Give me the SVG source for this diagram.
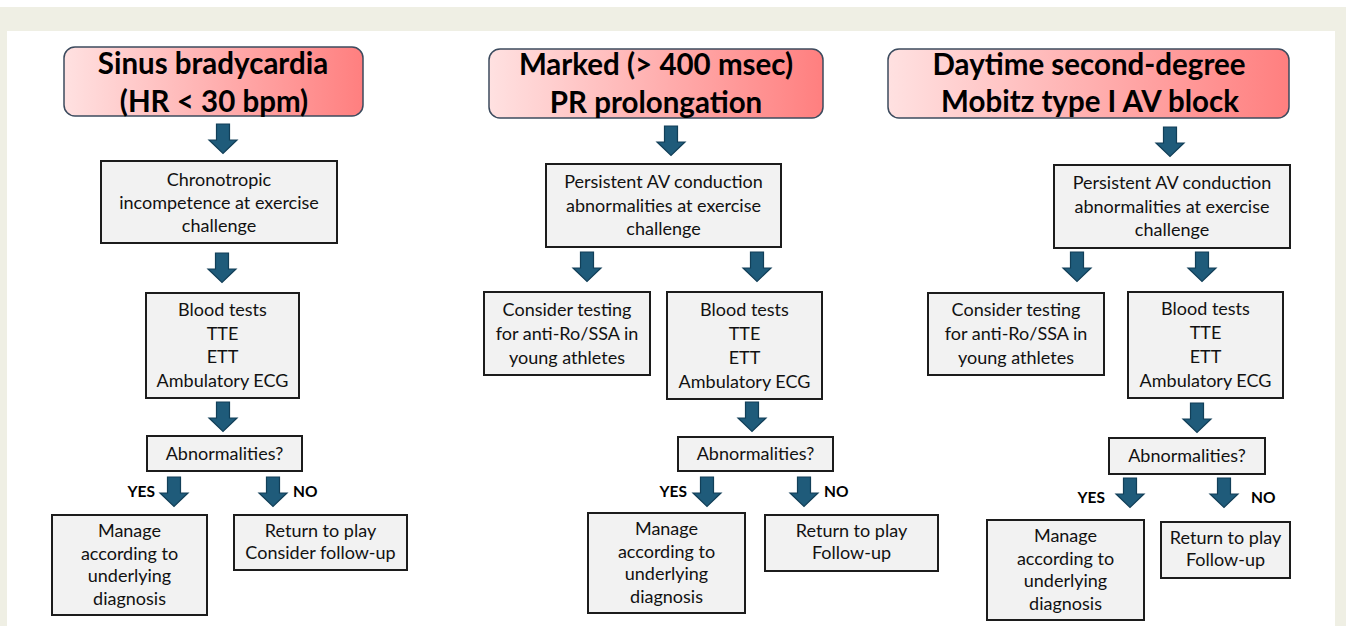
<svg xmlns="http://www.w3.org/2000/svg" width="1346" height="626" viewBox="0 0 1346 626">
  <defs>
    <linearGradient id="hdrFill" x1="0" y1="0" x2="1" y2="0">
      <stop offset="0" stop-color="#ffe1e1"/>
      <stop offset="1" stop-color="#ff7f7f"/>
    </linearGradient>
    <path id="down" d="M-6.5,0 H6.5 V16 H14 L0,29.5 L-14,16 H-6.5 Z"/>
    <style>
      .hdr { fill: url(#hdrFill); stroke: #3c4b5e; stroke-width: 1.5; }
      .hdrText { font-family: Lato, "Open Sans", sans-serif; font-weight: 700; font-size: 29.5px; fill: #000; text-anchor: middle; }
      .box { fill: #f2f2f2; stroke: #1c1c1c; stroke-width: 2; }
      .txt { font-family: Lato, "Open Sans", sans-serif; font-size: 18px; fill: #111; text-anchor: middle; }
      .lbl { font-family: Lato, "Open Sans", sans-serif; font-weight: 700; font-size: 15.5px; fill: #000; }
      .arrow { fill: #1f5b7a; stroke: #123f58; stroke-width: 1.2; stroke-linejoin: miter; }
    </style>
  </defs>

  <!-- page frame -->
  <rect x="0" y="0" width="1346" height="626" fill="#ffffff"/>
  <rect x="0" y="7" width="1346" height="619" fill="#efefe4"/>
  <rect x="7" y="31" width="1328" height="595" fill="#ffffff"/>

  <!-- ===== Column 1: sinus bradycardia ===== -->
  <g id="sb-header">
    <rect class="hdr" x="64" y="47" width="299" height="69" rx="11"/>
    <text class="hdrText" x="213" y="74">Sinus bradycardia</text>
    <text class="hdrText" x="214" y="112">(HR &lt; 30 bpm)</text>
  </g>
  <g id="sb-chrono">
    <rect class="box" x="101" y="161" width="236" height="82"/>
    <text class="txt" x="219" y="186">Chronotropic</text>
    <text class="txt" x="219" y="209">incompetence at exercise</text>
    <text class="txt" x="219" y="232">challenge</text>
  </g>
  <g id="sb-tests">
    <rect class="box" x="146" y="293" width="153" height="105"/>
    <text class="txt" x="222.5" y="316">Blood tests</text>
    <text class="txt" x="222.5" y="339.5">TTE</text>
    <text class="txt" x="222.5" y="363">ETT</text>
    <text class="txt" x="222.5" y="386.5">Ambulatory ECG</text>
  </g>
  <g id="sb-abn">
    <rect class="box" x="147" y="436" width="155" height="35"/>
    <text class="txt" x="224.5" y="459.5">Abnormalities?</text>
  </g>
  <g id="sb-manage">
    <rect class="box" x="52" y="515" width="155" height="100"/>
    <text class="txt" x="129.5" y="537">Manage</text>
    <text class="txt" x="129.5" y="559.5">according to</text>
    <text class="txt" x="129.5" y="582">underlying</text>
    <text class="txt" x="129.5" y="604.5">diagnosis</text>
  </g>
  <g id="sb-return">
    <rect class="box" x="234" y="515" width="173" height="55"/>
    <text class="txt" x="320.5" y="537">Return to play</text>
    <text class="txt" x="320.5" y="559">Consider follow-up</text>
  </g>

  <!-- ===== Column 2: marked PR prolongation ===== -->
  <g id="pr-header">
    <rect class="hdr" x="489" y="49" width="334" height="69" rx="11"/>
    <text class="hdrText" x="656" y="75">Marked (&gt; 400 msec)</text>
    <text class="hdrText" x="656" y="113">PR prolongation</text>
  </g>
  <g id="pr-persist">
    <rect class="box" x="546" y="164" width="235" height="83"/>
    <text class="txt" x="663.5" y="188">Persistent AV conduction</text>
    <text class="txt" x="663.5" y="211.5">abnormalities at exercise</text>
    <text class="txt" x="663.5" y="235">challenge</text>
  </g>
  <g id="pr-antiro">
    <rect class="box" x="484" y="292" width="166" height="83"/>
    <text class="txt" x="567" y="316">Consider testing</text>
    <text class="txt" x="567" y="340">for anti-Ro/SSA in</text>
    <text class="txt" x="567" y="364">young athletes</text>
  </g>
  <g id="pr-tests">
    <rect class="box" x="667" y="292" width="155" height="107"/>
    <text class="txt" x="744.5" y="316">Blood tests</text>
    <text class="txt" x="744.5" y="340">TTE</text>
    <text class="txt" x="744.5" y="364">ETT</text>
    <text class="txt" x="744.5" y="388">Ambulatory ECG</text>
  </g>
  <g id="pr-abn">
    <rect class="box" x="678" y="437" width="155" height="34"/>
    <text class="txt" x="755.5" y="460">Abnormalities?</text>
  </g>
  <g id="pr-manage">
    <rect class="box" x="588" y="513" width="157" height="100"/>
    <text class="txt" x="666.5" y="535">Manage</text>
    <text class="txt" x="666.5" y="557.5">according to</text>
    <text class="txt" x="666.5" y="580">underlying</text>
    <text class="txt" x="666.5" y="602.5">diagnosis</text>
  </g>
  <g id="pr-return">
    <rect class="box" x="765" y="515" width="173" height="56"/>
    <text class="txt" x="851.5" y="537">Return to play</text>
    <text class="txt" x="851.5" y="559">Follow-up</text>
  </g>

  <!-- ===== Column 3: Mobitz type I ===== -->
  <g id="mb-header">
    <rect class="hdr" x="888" y="49" width="401" height="69" rx="11"/>
    <text class="hdrText" x="1089" y="75">Daytime second-degree</text>
    <text class="hdrText" x="1090" y="112">Mobitz type I AV block</text>
  </g>
  <g id="mb-persist">
    <rect class="box" x="1054" y="165" width="236" height="83"/>
    <text class="txt" x="1172" y="189">Persistent AV conduction</text>
    <text class="txt" x="1172" y="212.5">abnormalities at exercise</text>
    <text class="txt" x="1172" y="236">challenge</text>
  </g>
  <g id="mb-antiro">
    <rect class="box" x="928" y="293" width="176" height="82"/>
    <text class="txt" x="1016" y="316">Consider testing</text>
    <text class="txt" x="1016" y="340">for anti-Ro/SSA in</text>
    <text class="txt" x="1016" y="364">young athletes</text>
  </g>
  <g id="mb-tests">
    <rect class="box" x="1128" y="292" width="155" height="106"/>
    <text class="txt" x="1205.5" y="315">Blood tests</text>
    <text class="txt" x="1205.5" y="339">TTE</text>
    <text class="txt" x="1205.5" y="363">ETT</text>
    <text class="txt" x="1205.5" y="387">Ambulatory ECG</text>
  </g>
  <g id="mb-abn">
    <rect class="box" x="1109" y="438" width="156" height="36"/>
    <text class="txt" x="1187" y="462">Abnormalities?</text>
  </g>
  <g id="mb-manage">
    <rect class="box" x="987" y="520" width="157" height="100"/>
    <text class="txt" x="1065.5" y="542">Manage</text>
    <text class="txt" x="1065.5" y="564.5">according to</text>
    <text class="txt" x="1065.5" y="587">underlying</text>
    <text class="txt" x="1065.5" y="609.5">diagnosis</text>
  </g>
  <g id="mb-return">
    <rect class="box" x="1161" y="522" width="129" height="56"/>
    <text class="txt" x="1225.5" y="544">Return to play</text>
    <text class="txt" x="1225.5" y="566">Follow-up</text>
  </g>

  <!-- ===== Connectors: block arrows and branch labels ===== -->
  <g id="connectors">
    <use href="#down" class="arrow" x="223" y="124"/>
    <use href="#down" class="arrow" x="222" y="253"/>
    <use href="#down" class="arrow" x="223" y="402"/>
    <use href="#down" class="arrow" x="174" y="477"/>
    <use href="#down" class="arrow" x="273" y="477"/>

    <use href="#down" class="arrow" x="671" y="126"/>
    <use href="#down" class="arrow" x="587" y="252"/>
    <use href="#down" class="arrow" x="757" y="252"/>
    <use href="#down" class="arrow" x="752" y="402"/>
    <use href="#down" class="arrow" x="707" y="477"/>
    <use href="#down" class="arrow" x="804" y="477"/>

    <use href="#down" class="arrow" x="1170" y="127"/>
    <use href="#down" class="arrow" x="1077" y="252"/>
    <use href="#down" class="arrow" x="1202" y="252"/>
    <use href="#down" class="arrow" x="1197" y="403"/>
    <use href="#down" class="arrow" x="1130" y="478"/>
    <use href="#down" class="arrow" x="1224" y="478"/>

    <text class="lbl" x="155" y="497" text-anchor="end">YES</text>
    <text class="lbl" x="293" y="497">NO</text>
    <text class="lbl" x="687" y="497" text-anchor="end">YES</text>
    <text class="lbl" x="824" y="497">NO</text>
    <text class="lbl" x="1105" y="503" text-anchor="end">YES</text>
    <text class="lbl" x="1251" y="503">NO</text>
  </g>
</svg>
